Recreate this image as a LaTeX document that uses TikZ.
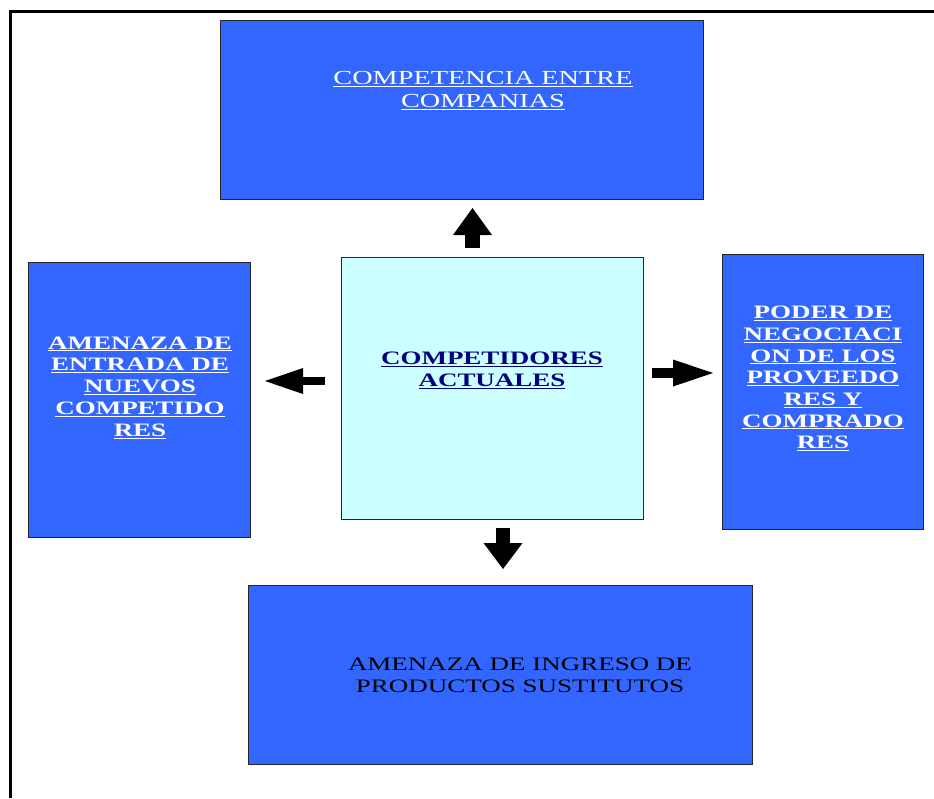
\documentclass[tikz,border=0pt]{standalone}
\usepackage{fontspec}
\setmainfont{Liberation Serif}[FakeStretch=1.42]
\usetikzlibrary{arrows.meta,shadows}
\definecolor{boxblue}{HTML}{3366FF}
\definecolor{boxcyan}{HTML}{CCFFFF}
\definecolor{navytext}{HTML}{000080}
\tikzset{
  panel/.style={draw=black!85, line width=1pt, inner sep=0pt, outer sep=0pt,
    drop shadow={shadow xshift=1.2pt, shadow yshift=-1.2pt, fill=black!50, opacity=.6}},
  bluepanel/.style={panel, fill=boxblue},
  cyanpanel/.style={panel, fill=boxcyan},
  paneltext/.style={align=center, inner sep=0pt, font=\fontsize{19}{22}\selectfont},
  whitetext/.style={paneltext, text=white},
  blockarrow/.style={draw=black, line cap=butt}
}
\begin{document}
\begin{tikzpicture}[x=1pt, y=-1pt]
\useasboundingbox (0,0) rectangle (934,798);
\fill[white] (0,0) rectangle (934,798);
% outer frame (only left and top visible)
\draw[line width=2.6pt, line cap=butt] (10.7,798) -- (10.7,11.7) -- (934,11.7);

% panels
\node[bluepanel, minimum width=483, minimum height=179] (top) at (461.5,109.5) {};
\node[bluepanel, minimum width=222, minimum height=275] (left) at (139,399.5) {};
\node[cyanpanel, minimum width=302, minimum height=262] (center) at (492,388) {};
\node[bluepanel, minimum width=201, minimum height=275] (right) at (822.5,391.5) {};
\node[bluepanel, minimum width=504, minimum height=179] (bottom) at (500,674.5) {};

% texts
\node[whitetext, font=\fontsize{19.9}{23}\selectfont] (toptext) at (483,90.5)
  {\underline{COMPETENCIA ENTRE}\\\underline{COMPANIAS}};
\node[whitetext, font=\fontsize{19}{21.8}\selectfont\bfseries] (lefttext) at (140,387.5)
  {\underline{AMENAZA DE}\\\underline{ENTRADA DE}\\\underline{NUEVOS}\\\underline{COMPETIDO}\\\underline{RES}};
\node[paneltext, text=navytext, font=\fontsize{19}{22}\selectfont\bfseries] (centertext) at (492,370.5)
  {\underline{COMPETIDORES}\\\underline{ACTUALES}};
\node[whitetext, font=\fontsize{19}{21.7}\selectfont\bfseries] (righttext) at (823,378.5)
  {\underline{PODER DE}\\\underline{NEGOCIACI}\\\underline{ON DE LOS}\\\underline{PROVEEDO}\\\underline{RES Y}\\\underline{COMPRADO}\\\underline{RES}};
\node[paneltext, text=black] (bottomtext) at (520,675)
  {AMENAZA DE INGRESO DE\\PRODUCTOS SUSTITUTOS};

% arrow end points
\coordinate (upS) at (472.5,248);
\coordinate (upE) at (472.5,208);
\coordinate (dnS) at (503,528);
\coordinate (dnE) at (503,569);
\coordinate (lfS) at (325,381);
\coordinate (lfE) at (265,381);
\coordinate (rtS) at (652,373);
\coordinate (rtE) at (713,373);

\draw[blockarrow, line width=15pt, -{Triangle[width=39pt, length=27pt, line width=0pt]}] (upS) -- (upE);
\draw[blockarrow, line width=14pt, -{Triangle[width=39pt, length=26pt, line width=0pt]}] (dnS) -- (dnE);
\draw[blockarrow, line width=8pt, -{Triangle[width=26pt, length=38pt, line width=0pt]}] (lfS) -- (lfE);
\draw[blockarrow, line width=10pt, -{Triangle[width=27pt, length=40pt, line width=0pt]}] (rtS) -- (rtE);
\end{tikzpicture}
\end{document}
